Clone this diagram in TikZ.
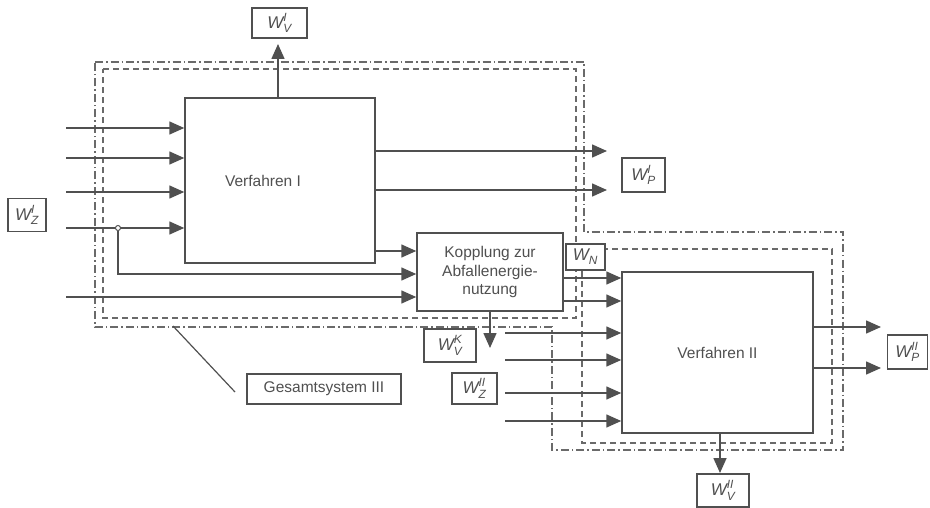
\documentclass[tikz,border=0pt]{standalone}
\usepackage{fontspec}
\setmainfont{Liberation Sans}
\usepackage{amsmath}
\usetikzlibrary{arrows.meta,calc}
\definecolor{ink}{HTML}{505050}
\newcommand\Wl[2]{$\text{\itshape W}_{\text{\itshape #1}}^{\text{\itshape #2}}$}
\begin{document}
\begin{tikzpicture}[x=1pt,y=-1pt,
  blk/.style={draw=ink, line width=1.5pt, fill=white, text=ink, font=\fontsize{15.5}{18.5}\selectfont, inner sep=0pt, align=center},
  lab/.style={draw=ink, line width=1.3pt, fill=white, text=ink, font=\fontsize{17}{18}\selectfont, inner sep=0pt},
  arr/.style={draw=ink, line width=1.6pt, -{Triangle[length=15pt,width=13pt]}},
  ln/.style={draw=ink, line width=1.5pt},
  bnddash/.style={draw=ink!85, line width=1.2pt, dash pattern=on 6pt off 4pt},
  bnddot/.style={draw=ink!85, line width=1.2pt, dash pattern=on 8pt off 3pt on 1.5pt off 3pt}]
\useasboundingbox (0,0) rectangle (930,508);

% system boundaries
\draw[bnddot] (95,62) -- (584,62) -- (584,232) -- (843,232) -- (843,450) -- (552,450) -- (552,327) -- (95,327) -- cycle;
\draw[bnddash] (103,69) -- (576,69) -- (576,318) -- (103,318) -- cycle;
\draw[bnddash] (582,249) -- (832,249) -- (832,443) -- (582,443) -- cycle;

% main blocks
\node[blk, minimum width=190pt, minimum height=165pt,
      label={[xshift=-17pt, text=ink, font=\fontsize{15.5}{18.5}\selectfont]center:Verfahren I}] (VI) at (280,180.5) {};
\node[blk, minimum width=191pt, minimum height=161pt] (VII) at (717.5,352.5) {Verfahren II};
\node[blk, minimum width=146pt, minimum height=78pt] (K) at (490,272) {Kopplung zur\\Abfallenergie-\\nutzung};

% labels
\node[lab, minimum width=55pt, minimum height=30pt] (WVI) at (279.5,23) {\Wl{V}{I}};
\node[lab, minimum width=38pt, minimum height=33pt] (WZI) at (27,215) {\Wl{Z}{I}};
\node[lab, minimum width=43pt, minimum height=34pt] (WPI) at (643.5,175) {\Wl{P}{I}};
\node[lab, minimum width=39pt, minimum height=26pt] (WN) at (585.5,257) {\Wl{N}{}};
\node[lab, minimum width=52pt, minimum height=33pt] (WVK) at (450,345.5) {\Wl{V}{K}};
\node[lab, minimum width=45pt, minimum height=31pt] (WZII) at (474.5,388.5) {\Wl{Z}{II}};
\node[lab, minimum width=40pt, minimum height=34pt] (WPII) at (907.5,352) {\Wl{P}{II}};
\node[lab, minimum width=52pt, minimum height=33pt] (WVII) at (723,490.5) {\Wl{V}{II}};
\node[lab, minimum width=154pt, minimum height=30pt, font=\fontsize{15.5}{18}\selectfont] (GS) at (324,389) {Gesamtsystem III};

% free ends
\coordinate (a1) at (66,128);
\coordinate (a2) at (66,158);
\coordinate (a3) at (66,192);
\coordinate (a4) at (66,228);
\coordinate (a5) at (66,297);
\coordinate (jb) at (118,274);
\coordinate (o1) at (607,151);
\coordinate (o2) at (607,190);
\coordinate (vt) at (278,44);
\coordinate (kb) at (490,348);
\coordinate (b1) at (505,333);
\coordinate (b2) at (505,360);
\coordinate (b3) at (505,393);
\coordinate (b4) at (505,421);
\coordinate (p1) at (881,327);
\coordinate (p2) at (881,368);
\coordinate (vb) at (720,473);
\coordinate (g1) at (173,326);
\coordinate (g2) at (235,392);

% inputs to Verfahren I
\draw[arr] (a1) -- (a1 -| VI.west);
\draw[arr] (a2) -- (a2 -| VI.west);
\draw[arr] (a3) -- (a3 -| VI.west);
\draw[arr] (a4) -- (a4 -| VI.west);
\node[circle, draw=ink, line width=1pt, fill=white, inner sep=0pt, minimum size=5pt] (j) at (118,228) {};
\draw[arr] (j.south) |- (jb -| K.west);
\draw[arr] (a5) -- (a5 -| K.west);
\draw[arr] (VI.east |- 0,251) -- (K.west |- 0,251);

% outputs of Verfahren I
\draw[arr] (VI.east |- o1) -- (o1);
\draw[arr] (VI.east |- o2) -- (o2);
\draw[arr] (VI.north -| vt) -- (vt);

% Kopplung
\draw[arr] (K.south -| kb) -- (kb);
\draw[arr] (K.east |- 0,278) -- (VII.west |- 0,278);
\draw[arr] (K.east |- 0,301) -- (VII.west |- 0,301);

% inputs to Verfahren II
\draw[arr] (b1) -- (b1 -| VII.west);
\draw[arr] (b2) -- (b2 -| VII.west);
\draw[arr] (b3) -- (b3 -| VII.west);
\draw[arr] (b4) -- (b4 -| VII.west);

% outputs of Verfahren II
\draw[arr] (VII.east |- p1) -- (p1);
\draw[arr] (VII.east |- p2) -- (p2);
\draw[arr] (VII.south -| vb) -- (vb);

% leader
\draw[ln, line width=1.2pt] (g1) -- (g2);
\end{tikzpicture}
\end{document}
